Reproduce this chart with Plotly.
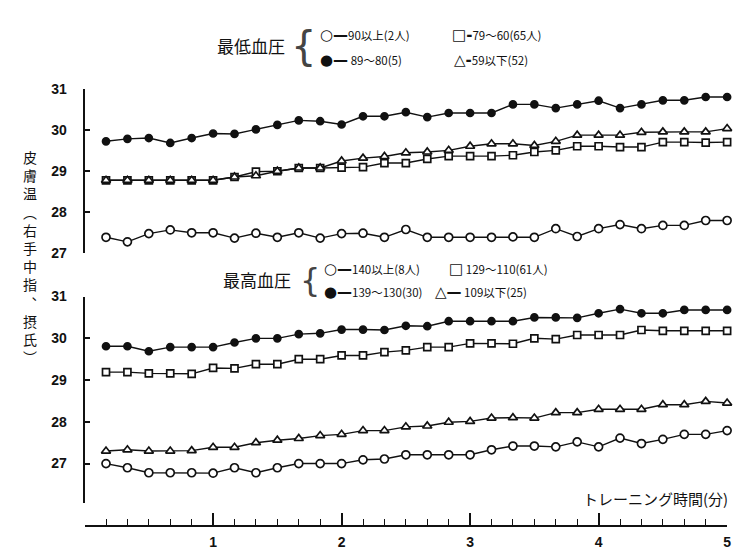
import plotly.graph_objects as go

# time in minutes (every 10 seconds)
time_min = [(i + 1) / 6 for i in range(30)]

# Top panel: 最低血圧 groups
low_90_over = [27.38, 27.27, 27.47, 27.56, 27.49, 27.49, 27.36, 27.48, 27.38, 27.49,
               27.36, 27.47, 27.48, 27.38, 27.57, 27.38, 27.38, 27.38, 27.38, 27.39,
               27.38, 27.59, 27.40, 27.59, 27.69, 27.59, 27.67, 27.67, 27.79, 27.79]
low_89_80 = [29.72, 29.78, 29.80, 29.68, 29.80, 29.91, 29.90, 30.01, 30.12, 30.23,
             30.21, 30.13, 30.33, 30.33, 30.43, 30.31, 30.41, 30.41, 30.41, 30.62,
             30.62, 30.53, 30.62, 30.71, 30.53, 30.62, 30.72, 30.72, 30.80, 30.80]
low_79_60 = [28.77, 28.77, 28.77, 28.77, 28.77, 28.77, 28.85, 28.98, 28.99, 29.07,
             29.07, 29.08, 29.09, 29.19, 29.19, 29.29, 29.36, 29.36, 29.36, 29.38,
             29.46, 29.50, 29.60, 29.60, 29.58, 29.58, 29.70, 29.70, 29.69, 29.70]
low_59_under = [28.77, 28.77, 28.77, 28.77, 28.77, 28.77, 28.85, 28.88, 28.99, 29.07,
                29.07, 29.24, 29.31, 29.35, 29.44, 29.46, 29.50, 29.60, 29.66, 29.66,
                29.62, 29.72, 29.87, 29.87, 29.87, 29.94, 29.95, 29.95, 29.95, 30.03]

# Bottom panel: 最高血圧 groups
high_140_over = [27.00, 26.90, 26.78, 26.78, 26.78, 26.77, 26.90, 26.78, 26.90, 27.00,
                 27.00, 27.00, 27.09, 27.11, 27.21, 27.21, 27.21, 27.21, 27.33, 27.42,
                 27.42, 27.40, 27.52, 27.40, 27.61, 27.48, 27.58, 27.70, 27.70, 27.79]
high_139_130 = [29.81, 29.81, 29.69, 29.79, 29.79, 29.79, 29.90, 30.00, 30.00, 30.10,
                30.12, 30.21, 30.21, 30.20, 30.30, 30.29, 30.41, 30.41, 30.41, 30.41,
                30.50, 30.50, 30.49, 30.60, 30.70, 30.60, 30.60, 30.68, 30.68, 30.68]
high_129_110 = [29.19, 29.19, 29.16, 29.16, 29.15, 29.29, 29.28, 29.38, 29.38, 29.50,
                29.50, 29.59, 29.59, 29.67, 29.71, 29.79, 29.79, 29.88, 29.88, 29.87,
                30.00, 29.98, 30.08, 30.08, 30.08, 30.20, 30.18, 30.18, 30.18, 30.18]
high_109_under = [27.30, 27.33, 27.30, 27.30, 27.31, 27.39, 27.39, 27.50, 27.56, 27.60,
                  27.67, 27.70, 27.79, 27.79, 27.88, 27.90, 27.99, 28.01, 28.09, 28.10,
                  28.09, 28.22, 28.22, 28.30, 28.30, 28.30, 28.41, 28.41, 28.49, 28.45]

x_ticks = [1, 2, 3, 4, 5]
y_ticks = [27, 28, 29, 30, 31]

W, H = 744, 549
def px(x):
    return x / W
def py(y):
    return 1 - y / H

INK = "#111111"
fig = go.Figure()

def add(y, yaxis, symbol, size, filled):
    fig.add_trace(go.Scatter(
        x=time_min, y=y, xaxis="x", yaxis=yaxis, mode="lines+markers",
        line=dict(color=INK, width=1.4),
        marker=dict(symbol=symbol, size=size,
                    color=INK if filled else "white",
                    line=dict(color=INK, width=1.7)),
        cliponaxis=False, showlegend=False, hoverinfo="skip"))

add(low_79_60, "y", "square", 7, False)
add(low_59_under, "y", "triangle-up", 8, False)
add(low_90_over, "y", "circle", 8, False)
add(low_89_80, "y", "circle", 7, True)

add(high_129_110, "y2", "square", 7, False)
add(high_109_under, "y2", "triangle-up", 8, False)
add(high_140_over, "y2", "circle", 8, False)
add(high_139_130, "y2", "circle", 7, True)

tickfont = dict(family="Liberation Sans", size=14, color=INK, weight="bold")
yb_low = 31 - (502 - 289) / 43

fig.update_layout(
    width=W, height=H, margin=dict(l=0, r=0, t=0, b=0),
    paper_bgcolor="white", plot_bgcolor="white",
    xaxis=dict(domain=[px(77), px(723)], range=[0, 5], anchor="free",
               position=py(525), showline=True, linecolor=INK, linewidth=1.8,
               showgrid=False, zeroline=False, ticks="inside", ticklen=12,
               tickwidth=1.5, tickcolor=INK, tickmode="array", tickvals=x_ticks,
               ticktext=[str(v) for v in x_ticks], tickfont=tickfont,
               ticklabelstandoff=4,
               minor=dict(tickmode="linear", tick0=0, dtick=1 / 6, ticks="inside",
                          ticklen=6, tickwidth=1.3, tickcolor=INK, showgrid=False)),
    yaxis=dict(domain=[py(244), py(75)], range=[27, 31], anchor="x",
               showline=True, linecolor=INK, linewidth=1.8, showgrid=False,
               zeroline=False, ticks="inside", ticklen=6, tickwidth=1.5,
               tickcolor=INK, tickmode="array", tickvals=y_ticks,
               ticktext=[str(v) for v in y_ticks], tickfont=tickfont,
               ticklabelstandoff=13),
    yaxis2=dict(domain=[py(502), py(289)], range=[yb_low, 31], anchor="x",
                showline=True, linecolor=INK, linewidth=1.8, showgrid=False,
                zeroline=False, ticks="inside", ticklen=6, tickwidth=1.5,
                tickcolor=INK, tickmode="array", tickvals=[yb_low] + y_ticks,
                ticktext=[""] + [str(v) for v in y_ticks], tickfont=tickfont,
                ticklabelstandoff=13),
)

CJK = "Noto Sans CJK JP"
def ann(text, x, y, size, xanchor="left", color=INK, family=CJK):
    fig.add_annotation(text=text, x=px(x), y=py(y), xref="paper", yref="paper",
                       xanchor=xanchor, yanchor="middle", showarrow=False,
                       font=dict(family=family, size=size, color=color))

def sym(ch):
    return ('<span style="font-family:DejaVu Sans;font-size:15px;font-weight:bold">'
            + ch + '</span>')

# Top legend
ann("最低血圧", 244, 30, 17, "center")
ann("{", 297, 31, 40, "center", "#444444", "DejaVu Sans")
ann(sym("○—") + "90以上(2人)", 312, 20, 11.5)
ann(sym("□-") + "79～60(65人)", 444, 20, 11.5)
ann(sym("●—") + " 89～80(5)", 312, 45, 11.5)
ann(sym("△-") + "59以下(52)", 446, 45, 11.5)

# Bottom legend
ann("最高血圧", 250, 271, 17, "center")
ann("{", 304, 272, 32, "center", "#444444", "DejaVu Sans")
ann(sym("○—") + "140以上(8人)", 316, 261, 11.5)
ann(sym("□") + " 129～110(61人)", 441, 261, 11.5)
ann(sym("●—") + "139～130(30)", 316, 284, 11.5)
ann(sym("△—") + " 109以下(25)", 427, 284, 11.5)

# X axis title
ann("トレーニング時間(分)", 726, 497, 15, "right")

# Vertical y title
ytitle = ["皮", "膚", "温", "︵", "右", "手", "中", "指", "︑", "摂", "氏", "︶"]
ann("<br>".join(ytitle), 22, 248, 14, "center")

fig.write_html("out.html")
